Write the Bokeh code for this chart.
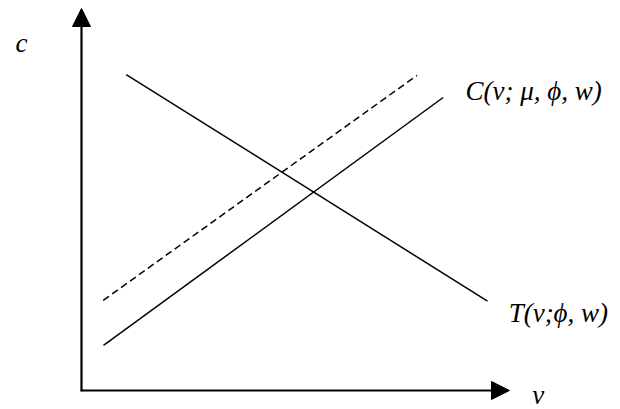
from bokeh.plotting import figure
from bokeh.models import Range1d, Arrow, NormalHead, Label
from bokeh.embed import file_html
from bokeh.resources import INLINE

# Axis extents (data units)
axis_v_max = 10.0
axis_c_max = 10.0

# Curves: endpoints (v, c)
T_v = [1.044, 9.486]
T_c = [8.27, 2.34]
C_v = [0.514, 8.45]
C_c = [1.18, 7.67]
Cshift_v = [0.507, 7.84]
Cshift_c = [2.36, 8.25]

# Texts
label_c = "c"
label_v = "v"
label_C = "C(v; μ, ϕ, w)"
label_T = "T(v;ϕ, w)"

W, H = 620, 409
p = figure(width=W, height=H, output_backend="svg", toolbar_location=None,
           x_range=Range1d(-1.8925, 12.5935), y_range=Range1d(-0.4974, 10.2094),
           min_border=0, outline_line_color=None)
p.xaxis.visible = False
p.yaxis.visible = False
p.grid.visible = False
p.background_fill_color = "white"
p.border_fill_color = "white"

# axes with arrows
p.add_layout(Arrow(end=NormalHead(size=18, fill_color="black", line_color="black", line_width=1),
                   x_start=0, y_start=-0.02, x_end=0, y_end=axis_c_max,
                   line_width=2.2, line_color="black"))
p.add_layout(Arrow(end=NormalHead(size=18, fill_color="black", line_color="black", line_width=1),
                   x_start=-0.02, y_start=0, x_end=axis_v_max, y_end=0,
                   line_width=2.2, line_color="black"))

p.line(T_v, T_c, line_color="black", line_width=1.5)
p.line(C_v, C_c, line_color="black", line_width=1.5)
p.line(Cshift_v, Cshift_c, line_color="black", line_width=1.5, line_dash="7 4")

font = "Liberation Serif"
def lab(x, y, t, size="27px"):
    p.add_layout(Label(x=x, y=y, text=t, text_font=font, text_font_style="italic",
                       text_font_size=size, text_color="black",
                       text_baseline="alphabetic", text_align="left"))

lab(-1.542, 9.10, label_c)
lab(10.53, -0.12, label_v)
lab(8.97, 7.85, label_C)
lab(9.98, 2.04, label_T)

open("out.html", "w").write(file_html(p, INLINE))
